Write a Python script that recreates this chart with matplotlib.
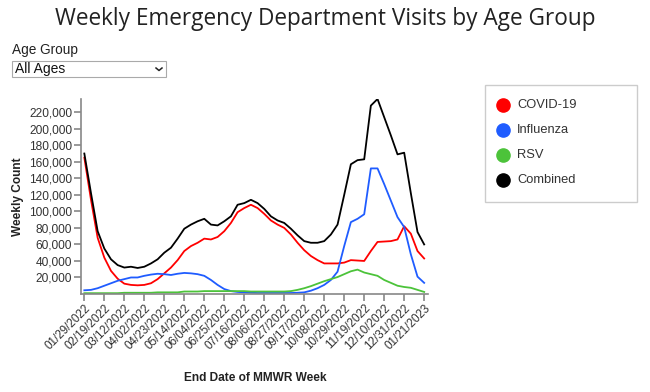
import matplotlib
matplotlib.use('Agg')
import matplotlib.pyplot as plt
from matplotlib.patches import Rectangle
from matplotlib.lines import Line2D
import numpy as np

plt.rcParams['font.family'] = ['Liberation Sans', 'DejaVu Sans']

# weekly end dates (MMWR week), 01/29/2022 .. 01/21/2023
weeks = ['01/29/2022', '02/05/2022', '02/12/2022', '02/19/2022', '02/26/2022', '03/05/2022',
         '03/12/2022', '03/19/2022', '03/26/2022', '04/02/2022', '04/09/2022', '04/16/2022',
         '04/23/2022', '04/30/2022', '05/07/2022', '05/14/2022', '05/21/2022', '05/28/2022',
         '06/04/2022', '06/11/2022', '06/18/2022', '06/25/2022', '07/02/2022', '07/09/2022',
         '07/16/2022', '07/23/2022', '07/30/2022', '08/06/2022', '08/13/2022', '08/20/2022',
         '08/27/2022', '09/03/2022', '09/10/2022', '09/17/2022', '09/24/2022', '10/01/2022',
         '10/08/2022', '10/15/2022', '10/22/2022', '10/29/2022', '11/05/2022', '11/12/2022',
         '11/19/2022', '11/26/2022', '12/03/2022', '12/10/2022', '12/17/2022', '12/24/2022',
         '12/31/2022', '01/07/2023', '01/14/2023', '01/21/2023']

covid = [165000, 114000, 68000, 44000, 28000, 18500, 12500, 11000, 10500, 11000, 13000, 18000,
         25000, 32000, 41000, 52000, 58000, 62000, 67000, 66000, 69000, 76000, 86000, 99000,
         104000, 108000, 104000, 97000, 89000, 84000, 80000, 72000, 62000, 53000, 46000, 41000,
         37000, 37000, 37000, 38000, 41000, 40500, 40000, 52000, 63000, 63500, 64000, 66000,
         82000, 73000, 52000, 43000]

influenza = [4500, 5000, 7000, 10000, 13000, 16000, 18000, 20000, 20000, 22000, 23500, 24500,
             24000, 23000, 24500, 25500, 25000, 24000, 22000, 17000, 11000, 6000, 3500, 2500,
             2000, 1500, 1200, 1200, 1200, 1200, 1200, 1200, 1500, 2000, 4000, 7000,
             11000, 17000, 27000, 58000, 87000, 91000, 96500, 152000, 152000, 133000, 113000, 93000,
             81000, 48000, 21000, 13500]

rsv = [1000, 1000, 1000, 1000, 1000, 1000, 1500, 1500, 1500, 1500, 1500, 2000,
       2000, 2000, 2000, 3000, 3000, 3000, 3500, 3500, 3500, 3500, 3500, 3500,
       3500, 3000, 3000, 3000, 3000, 3000, 3000, 3500, 5000, 7000, 9500, 12500,
       15500, 18000, 20500, 24000, 27500, 29500, 26000, 24000, 22000, 17000, 13500, 10000,
       8500, 7500, 5000, 2500]

combined = [170000, 122000, 76000, 55000, 42000, 35000, 32000, 33000, 31500, 33000, 37000, 42000,
            50000, 56000, 67000, 79000, 84000, 88000, 91000, 84000, 83000, 88000, 94000, 108000,
            110000, 114000, 110000, 103000, 94000, 89000, 86000, 79000, 71000, 64000, 62000, 62000,
            64000, 72000, 84000, 120000, 157000, 162000, 163000, 228000, 236000, 214000, 192000, 169000,
            171000, 122000, 75000, 60000]

series_names = ['COVID-19', 'Influenza', 'RSV', 'Combined']
series_colors = ['#ff0000', '#1f5cff', '#4cc33a', '#000000']
series_values = [covid, influenza, rsv, combined]

W, H = 650, 392
fig = plt.figure(figsize=(W / 100, H / 100), dpi=100)

def fx(px):
    return px / W

def fy(py):
    return 1 - py / H

# title and dropdown mock
fig.text(0.5, fy(19), 'Weekly Emergency Department Visits by Age Group',
         ha='center', va='center', fontsize=16.3, color='#222222', family='Open Sans')
fig.text(fx(12), fy(50), 'Age Group', ha='left', va='center', fontsize=9.8, color='#222222')
fig.add_artist(Rectangle((fx(12), fy(77)), fx(154), (77 - 61) / H, transform=fig.transFigure,
                         facecolor='white', edgecolor='#aaaaaa', linewidth=0.8))
fig.text(fx(15), fy(69), 'All Ages', ha='left', va='center', fontsize=10, color='#111111')
fig.add_artist(Line2D([fx(156), fx(159), fx(162)], [fy(68), fy(70.5), fy(68)],
                      transform=fig.transFigure, color='#222222', linewidth=1.1))

ax = fig.add_axes([fx(81), fy(294), fx(427.5 - 81), (294 - 99) / H])
x = np.arange(len(weeks))
for name, color, vals in zip(series_names, series_colors, series_values):
    ax.plot(x, vals, color=color, linewidth=1.3, label=name)

ax.set_xlim(-0.5, len(weeks) - 0.5)
ax.set_ylim(0, max(combined))
ax.set_yticks(np.arange(20000, 220001, 20000))
ax.set_yticklabels([f'{v:,}' for v in range(20000, 220001, 20000)])
ax.set_xticks(x[::3])
ax.set_xticklabels(weeks[::3], rotation=45, ha='right', rotation_mode='anchor')

for s in ['top', 'right']:
    ax.spines[s].set_visible(False)
for s in ['left', 'bottom']:
    ax.spines[s].set_color('#888888')
    ax.spines[s].set_linewidth(1.2)
ax.tick_params(axis='both', colors='#888888', length=5, width=1.2,
               labelcolor='#333333')
ax.tick_params(axis='y', labelsize=8.6, pad=1.5)
ax.tick_params(axis='x', labelsize=8.4, pad=1)

ax.set_ylabel('Weekly Count', fontsize=8.6, fontweight='bold', color='#222222')
ax.yaxis.set_label_coords((24 - 81) / (427.5 - 81), 0.5)
fig.text(fx(255), fy(378), 'End Date of MMWR Week', ha='center', va='center',
         fontsize=8.6, fontweight='bold', color='#222222')

# legend box drawn by hand to match the reference layout
fig.add_artist(Rectangle((fx(485), fy(202)), fx(637 - 485), (202 - 85) / H,
                         transform=fig.transFigure, facecolor='white',
                         edgecolor='#cccccc', linewidth=1.0))
row_y = [105, 130, 155, 180]
for name, color, ry in zip(series_names, series_colors, row_y):
    fig.add_artist(Line2D([fx(503)], [fy(ry)], transform=fig.transFigure, marker='o',
                          markersize=9.5, color=color, linestyle='none'))
    fig.text(fx(517), fy(ry), name, ha='left', va='center', fontsize=9.3, color='#333333')

fig.savefig('out.png', dpi=100)
